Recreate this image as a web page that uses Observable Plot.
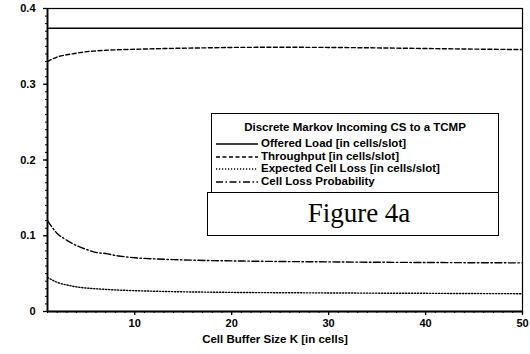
<!DOCTYPE html>
<html>
<head>
<meta charset="utf-8">
<script src="https://cdn.jsdelivr.net/npm/d3@7"></script>
<script src="https://cdn.jsdelivr.net/npm/@observablehq/plot@0.6"></script>
<style>
  body { margin: 0; background: #fff; }
  #chart { position: relative; width: 530px; height: 354px; font-family: "Liberation Sans", Arial, sans-serif; color: #000; }
  #chart svg { display: block; }
  .legend { position: absolute; left: 211px; top: 113px; width: 288px; height: 80px; box-sizing: border-box;
            border: 1.5px solid #000; background: #fff; font-size: 11.5px; font-weight: bold; }
  .legend .title { position: absolute; left: 0; right: 0; top: 7px; text-align: center; white-space: nowrap; }
  .legend .row { position: absolute; left: 3px; height: 12px; white-space: nowrap; }
  .legend .row svg { position: absolute; left: 0; top: 0; }
  .legend .row span { position: absolute; left: 46px; top: -1px; line-height: 13px; }
  .figbox { position: absolute; left: 207px; top: 191.5px; width: 292px; height: 44px; box-sizing: border-box;
            border: 1.5px solid #000; background: #fff; font-family: "Liberation Serif", "Times New Roman", serif;
            font-size: 27px; text-align: center; line-height: 40px; padding-left: 12px; }
</style>
</head>
<body>
<div id="chart"></div>
<script>
// Buffer sizes K at which the curves are sampled
const bufferSize = [1, 2, 3, 4, 5, 6, 7, 8, 10, 12, 14, 16, 18, 20, 25, 30, 35, 40, 45, 50];

// Offered load [cells/slot]
const offeredLoad = [0.374, 0.374, 0.374, 0.374, 0.374, 0.374, 0.374, 0.374, 0.374, 0.374,
                     0.374, 0.374, 0.374, 0.374, 0.374, 0.374, 0.374, 0.374, 0.374, 0.374];
// Throughput [cells/slot]
const throughput = [0.330, 0.336, 0.339, 0.341, 0.343, 0.344, 0.3448, 0.3454, 0.3462, 0.3468,
                    0.3474, 0.3478, 0.3482, 0.3486, 0.3488, 0.3486, 0.348, 0.3472, 0.3464, 0.3458];
// Expected cell loss [cells/slot]
const expectedLoss = [0.045, 0.0385, 0.035, 0.0325, 0.031, 0.030, 0.0292, 0.0285, 0.0275, 0.0268,
                      0.0262, 0.0258, 0.0255, 0.0252, 0.0248, 0.0245, 0.0242, 0.024, 0.0237, 0.0235];
// Cell loss probability
const lossProbability = [0.120, 0.103, 0.094, 0.087, 0.082, 0.078, 0.0765, 0.074, 0.071, 0.0695,
                         0.0685, 0.0678, 0.0672, 0.0668, 0.066, 0.0655, 0.065, 0.0647, 0.0644, 0.0642];

const xTicks = [10, 20, 30, 40, 50];
const yTicks = [0, 0.1, 0.2, 0.3, 0.4];
const xMinor = d3.range(1, 51);
const yMinor = d3.range(0, 41).map(i => i / 100);

const legendTitle = "Discrete Markov Incoming CS to a TCMP";
const seriesNames = ["Offered Load [in cells/slot]", "Throughput [in cells/slot]",
                     "Expected Cell Loss [in cells/slot]", "Cell Loss Probability"];
const seriesValues = [offeredLoad, throughput, expectedLoss, lossProbability];
const seriesDash = [null, "4,2.5", "1.2,1.8", "7,2.5,1.5,2.5"];
const xLabel = "Cell Buffer Size K [in cells]";
const figureLabel = "Figure 4a";

const table = (vals, name) => bufferSize.map((k, i) => ({k, v: vals[i], name}));

const lineMarks = seriesValues.map((vals, i) =>
  Plot.line(table(vals, seriesNames[i]), {
    x: "k", y: "v", stroke: "#000", strokeWidth: 1.4,
    strokeDasharray: seriesDash[i] || undefined, curve: "monotone-x"
  })
);

const plot = Plot.plot({
  width: 530,
  height: 354,
  marginLeft: 47,
  marginRight: 8,
  marginTop: 8,
  marginBottom: 43,
  style: { fontFamily: "'Liberation Sans', Arial, sans-serif", fontSize: "11px", fontWeight: "bold", background: "#fff", color: "#000" },
  x: { domain: [1, 50] },
  y: { domain: [0, 0.4] },
  marks: [
    Plot.frame({ stroke: "#000", strokeWidth: 1.2 }),
    Plot.axisX(xMinor, { tickSize: 2, text: null, label: null, strokeWidth: 1 }),
    Plot.axisY(yMinor, { tickSize: 2, text: null, label: null, strokeWidth: 1 }),
    Plot.axisX(xTicks, { tickSize: 4, tickPadding: 4, label: null, strokeWidth: 1.3 }),
    Plot.axisY(yTicks, { tickSize: 4, tickPadding: 8, label: null, strokeWidth: 1.3,
                         tickFormat: d => d === 0 ? "0" : d.toFixed(1) }),
    Plot.ruleX([1], { stroke: "#000", strokeWidth: 1.8 }),
    Plot.ruleY([0], { stroke: "#000", strokeWidth: 1.8 }),
    ...lineMarks,
    Plot.text([xLabel], { frameAnchor: "bottom", dx: -10, dy: 31, fontSize: 11.5, fontWeight: "bold", fill: "#000" })
  ]
});

const chart = document.getElementById("chart");
chart.appendChild(plot);

// Legend box inside the plot area
const legend = document.createElement("div");
legend.className = "legend";
const title = document.createElement("div");
title.className = "title";
title.textContent = legendTitle;
legend.appendChild(title);
seriesNames.forEach((name, i) => {
  const row = document.createElement("div");
  row.className = "row";
  row.style.top = (24 + i * 12.7) + "px";
  const dash = seriesDash[i] ? ` stroke-dasharray="${seriesDash[i]}"` : "";
  row.innerHTML = `<svg width="44" height="12"><line x1="1" x2="43" y1="6" y2="6" stroke="#000" stroke-width="1.4"${dash}/></svg><span></span>`;
  row.querySelector("span").textContent = name;
  legend.appendChild(row);
});
chart.appendChild(legend);

const fig = document.createElement("div");
fig.className = "figbox";
fig.textContent = figureLabel;
chart.appendChild(fig);
</script>
</body>
</html>
